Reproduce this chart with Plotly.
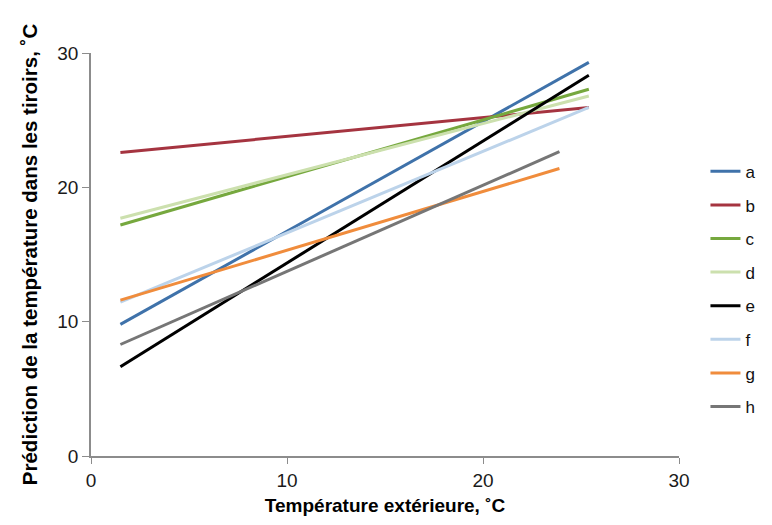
import plotly.graph_objects as go

names = ["a", "b", "c", "d", "e", "f", "g", "h"]
colors = ["#3F72AA", "#A53440", "#76A83E", "#CCE0AE", "#000000", "#BCD3EA", "#F08C3C", "#767676"]
x_start = [1.5, 1.5, 1.5, 1.5, 1.5, 1.5, 1.5, 1.5]
x_end = [25.4, 25.4, 25.4, 25.4, 25.4, 25.4, 23.9, 23.9]
y_start = [9.8, 22.6, 17.2, 17.7, 6.65, 11.45, 11.6, 8.3]
y_end = [29.3, 25.95, 27.3, 26.8, 28.35, 25.95, 21.4, 22.65]

fig = go.Figure()
for i, n in enumerate(names):
    fig.add_trace(go.Scatter(
        x=[x_start[i], x_end[i]], y=[y_start[i], y_end[i]],
        mode="lines", name=n, legendgroup=n,
        line=dict(color=colors[i], width=3),
    ))

fig.update_layout(
    width=764, height=517,
    margin=dict(l=83, r=93, t=45, b=67),
    plot_bgcolor="white", paper_bgcolor="white",
    font=dict(family="Liberation Sans, Arial, sans-serif", color="#1a1a1a"),
    showlegend=True,
    legend=dict(x=1.045, y=0.75, xanchor="left", yanchor="top",
                font=dict(size=17, color="#111111"),
                traceorder="grouped", tracegroupgap=8.5,
                bgcolor="rgba(0,0,0,0)"),
    xaxis=dict(range=[0, 30], tickvals=[0, 10, 20, 30], showgrid=False, zeroline=False,
               showline=True, linecolor="#8C8C8C", linewidth=1.5,
               ticks="outside", ticklen=6, tickcolor="#8C8C8C",
               tickfont=dict(size=19, color="#1a1a1a"),
               title=dict(text="<b>Température extérieure, ˚C</b>", font=dict(size=19, color="#000000"), standoff=9)),
    yaxis=dict(range=[0, 30], tickvals=[0, 10, 20, 30], showgrid=False, zeroline=False,
               showline=True, linecolor="#8C8C8C", linewidth=1.5,
               ticks="outside", ticklen=7, tickcolor="#8C8C8C",
               tickfont=dict(size=19, color="#1a1a1a"),
               title=dict(text="<b>Prédiction de la température dans les tiroirs, ˚C</b>", font=dict(size=20.5, color="#000000"), standoff=14)),
)

fig.write_html("out.html")
